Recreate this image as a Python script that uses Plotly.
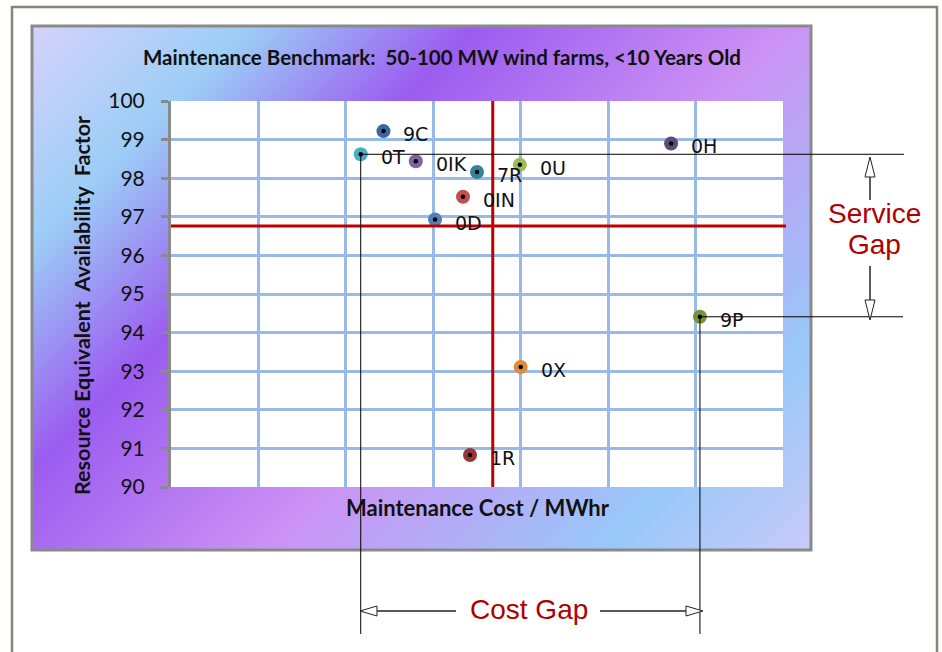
import base64
import plotly.graph_objects as go

# ---------------- data ----------------
labels = ["9C", "0T", "0IK", "7R", "0U", "0IN", "0D", "0H", "9P", "0X", "1R"]
cost = [2.43, 2.17, 2.80, 3.50, 3.99, 3.34, 3.02, 5.72, 6.05, 4.00, 3.42]
availability = [99.22, 98.62, 98.44, 98.16, 98.35, 97.52, 96.93, 98.90, 94.41, 93.11, 90.83]
colors = ["#3a67a3", "#4bacc6", "#8064a2", "#31849b", "#9bbb59", "#c0504d",
          "#4f81bd", "#604a7b", "#77933c", "#e4893a", "#953735"]
avg_cost = 3.68
avg_availability = 96.76
y_ticks = [90, 91, 92, 93, 94, 95, 96, 97, 98, 99, 100]
x_range = [0, 7]
y_range = [90, 100]

# ---------------- geometry ----------------
W, H = 942, 652
L, R, T, B = 171, 159, 101, 165
PW, PH = W - L - R, H - T - B


def px(x):
    return (x - L) / PW


def py(y):
    return (H - B - y) / PH


def xfrac(v):
    return (v - x_range[0]) / (x_range[1] - x_range[0])


def yfrac(v):
    return (v - y_range[0]) / (y_range[1] - y_range[0])


# gradient panel as an inline SVG image
pw_, ph_ = 781, 526
svg = f'''<svg xmlns="http://www.w3.org/2000/svg" width="{pw_}" height="{ph_}" viewBox="0 0 {pw_} {ph_}" preserveAspectRatio="none">
<defs><linearGradient id="g" gradientUnits="userSpaceOnUse" x1="0" y1="0" x2="{(pw_+ph_)/2}" y2="{(pw_+ph_)/2}">
<stop offset="0" stop-color="#d6d2fb"/>
<stop offset="0.17" stop-color="#9ccdf6"/>
<stop offset="0.34" stop-color="#9b5cf0"/>
<stop offset="0.58" stop-color="#cc92f4"/>
<stop offset="0.84" stop-color="#98c8f8"/>
<stop offset="1" stop-color="#cacaf8"/>
</linearGradient></defs>
<rect width="{pw_}" height="{ph_}" fill="url(#g)"/></svg>'''
src = "data:image/svg+xml;base64," + base64.b64encode(svg.encode()).decode()

fig = go.Figure()
fig.add_trace(go.Scatter(
    x=cost, y=availability, mode="markers",
    marker=dict(size=14, color=colors, line=dict(width=0)),
    hoverinfo="skip", showlegend=False, cliponaxis=False))
fig.add_trace(go.Scatter(
    x=cost, y=availability, mode="markers",
    marker=dict(size=4.5, color="black", line=dict(width=0)),
    hoverinfo="skip", showlegend=False, cliponaxis=False))

annotations = []
for lab, xv, yv in zip(labels, cost, availability):
    annotations.append(dict(
        x=xv, y=yv, xref="x", yref="y", text=lab, showarrow=False,
        xanchor="left", yanchor="middle", xshift=18, yshift=-3,
        font=dict(family="DejaVu Sans", size=19, color="#111111")))

annotations += [
    dict(x=px(442), y=py(57), xref="paper", yref="paper", showarrow=False,
         text="<b>Maintenance Benchmark:\u00a0 50-100\u00a0MW wind farms, &lt;10 Years Old</b>",
         font=dict(family="Lato", size=20.5, color="#111111"), xanchor="center", yanchor="middle"),
    dict(x=px(82), y=py(306), xref="paper", yref="paper", showarrow=False, textangle=-90,
         text="<b>Resource Equivalent\u00a0 Availability\u00a0 Factor</b>",
         font=dict(family="Lato", size=21.5, color="#111111"), xanchor="center", yanchor="middle"),
    dict(x=px(478), y=py(507), xref="paper", yref="paper", showarrow=False,
         text="<b>Maintenance Cost / MWhr</b>",
         font=dict(family="Lato", size=22, color="#111111"), xanchor="center", yanchor="middle"),
    dict(x=px(874), y=py(213), xref="paper", yref="paper", showarrow=False, text="Service",
         font=dict(family="Liberation Sans", size=28, color="#b00000"), xanchor="center", yanchor="middle"),
    dict(x=px(874), y=py(244), xref="paper", yref="paper", showarrow=False, text="Gap",
         font=dict(family="Liberation Sans", size=28, color="#b00000"), xanchor="center", yanchor="middle"),
    dict(x=px(529), y=py(609), xref="paper", yref="paper", showarrow=False, text="Cost Gap",
         font=dict(family="Liberation Sans", size=28, color="#b00000"), xanchor="center", yanchor="middle"),
]

i_t = labels.index("0T")
i_p = labels.index("9P")

shapes = [
    # outer frame
    dict(type="rect", xref="paper", yref="paper", x0=px(12), x1=px(937), y0=py(7), y1=py(720),
         line=dict(color="#8c8276", width=2.5), fillcolor="rgba(0,0,0,0)", layer="below"),
    # panel border
    dict(type="rect", xref="paper", yref="paper", x0=px(32), x1=px(811), y0=py(26), y1=py(550),
         line=dict(color="#8a8a8a", width=3), fillcolor="rgba(0,0,0,0)", layer="below"),
    # white plot area
    dict(type="rect", xref="paper", yref="paper", x0=0, x1=1, y0=0, y1=1,
         line=dict(width=0), fillcolor="white", layer="below"),
    # benchmark lines
    dict(type="line", xref="x", yref="y", x0=avg_cost, x1=avg_cost, y0=y_range[0], y1=y_range[1],
         line=dict(color="#c00000", width=3), layer="between"),
    dict(type="line", xref="paper", yref="y", x0=0, x1=px(786), y0=avg_availability, y1=avg_availability,
         line=dict(color="#c00000", width=3), layer="above"),
    # connector lines
    dict(type="line", xref="paper", yref="y", x0=xfrac(cost[i_t]), x1=px(904),
         y0=availability[i_t], y1=availability[i_t], line=dict(color="black", width=1), layer="above"),
    dict(type="line", xref="paper", yref="y", x0=xfrac(cost[i_p]), x1=px(903),
         y0=availability[i_p], y1=availability[i_p], line=dict(color="black", width=1), layer="above"),
    dict(type="line", xref="x", yref="paper", x0=cost[i_t], x1=cost[i_t],
         y0=yfrac(availability[i_t]), y1=py(634), line=dict(color="black", width=1), layer="above"),
    dict(type="line", xref="x", yref="paper", x0=cost[i_p], x1=cost[i_p],
         y0=yfrac(availability[i_p]), y1=py(634), line=dict(color="black", width=1), layer="above"),
]


def seg(x0, y0, x1, y1):
    return dict(type="line", xref="paper", yref="paper", x0=px(x0), y0=py(y0), x1=px(x1), y1=py(y1),
                line=dict(color="#5a5a5a", width=2), layer="above")


def tri(pts):
    path = "M " + " L ".join(f"{px(a):.5f},{py(b):.5f}" for a, b in pts) + " Z"
    return dict(type="path", xref="paper", yref="paper", path=path,
                fillcolor="white", line=dict(color="#222222", width=1), layer="above")


# cost gap arrow
shapes += [
    seg(377, 611, 456, 611), seg(600, 611, 686, 611),
    tri([(360, 611), (377, 606), (377, 616)]),
    tri([(703, 611), (686, 606), (686, 616)]),
]
# service gap arrow
shapes += [
    seg(870, 177, 870, 200), seg(870, 266, 870, 300),
    tri([(870, 157), (865, 177), (875, 177)]),
    tri([(870, 320), (865, 300), (875, 300)]),
]

fig.update_layout(
    width=W, height=H,
    margin=dict(l=L, r=R, t=T, b=B, pad=0),
    paper_bgcolor="white", plot_bgcolor="white",
    showlegend=False,
    images=[dict(source=src, xref="paper", yref="paper", x=px(31), y=py(25),
                 sizex=pw_ / PW, sizey=ph_ / PH, xanchor="left", yanchor="top",
                 sizing="stretch", layer="below")],
    annotations=annotations,
    shapes=shapes,
)
fig.update_xaxes(range=x_range, dtick=1, tick0=0, showticklabels=False, ticks="",
                 showgrid=True, gridcolor="#98bae6", gridwidth=3, zeroline=False,
                 showline=False, fixedrange=True)
fig.update_yaxes(range=y_range, tickvals=y_ticks, ticktext=[str(v) for v in y_ticks],
                 showgrid=True, gridcolor="#98bae6", gridwidth=3, zeroline=False,
                 showline=True, linecolor="#8a8a8a", linewidth=3,
                 ticks="outside", ticklen=7, tickwidth=3, tickcolor="#8a8a8a",
                 ticklabelstandoff=12,
                 tickfont=dict(family="Lato", size=21, color="#111111"), fixedrange=True)

fig.write_html("out.html", config={"displayModeBar": False},
               post_script="document.body.style.margin='0';")
